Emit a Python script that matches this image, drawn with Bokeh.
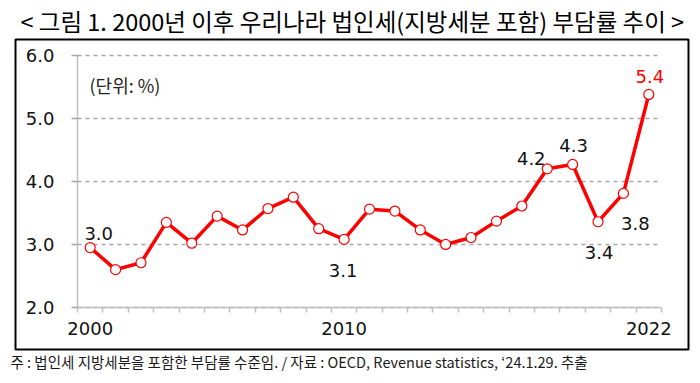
from bokeh.plotting import figure
from bokeh.models import (ColumnDataSource, Range1d, FixedTicker, NumeralTickFormatter,
                          Label, Title, Grid, CustomJSTickFormatter)
from bokeh.core.properties import value
from bokeh.embed import file_html
from bokeh.resources import INLINE

# ---------------- data ----------------
years = list(range(2000, 2023))
rate = [2.95, 2.60, 2.71, 3.35, 3.02, 3.45, 3.23, 3.57, 3.75, 3.25, 3.08,
        3.56, 3.53, 3.23, 3.00, 3.11, 3.37, 3.61, 4.20, 4.27, 3.36, 3.81, 5.38]
label_years = [2000, 2010, 2018, 2019, 2020, 2021, 2022]
label_texts = ["3.0", "3.1", "4.2", "4.3", "3.4", "3.8", "5.4"]
x_tick_labels = [2000, 2010, 2022]
y_ticks = [2.0, 3.0, 4.0, 5.0, 6.0]
title_text = "< 그림 1. 2000년 이후 우리나라 법인세(지방세분 포함) 부담률 추이 >"
unit_text = "(단위: %)"
note_text = "주 : 법인세 지방세분을 포함한 부담률 수준임. / 자료 : OECD, Revenue statistics, \u201824.1.29. 추출"

# ---------------- layout / styles ----------------
W, H = 692, 375
FRAME_L, FRAME_R, FRAME_T, FRAME_B = 15, 688, 38, 350      # black box (frame)
AX_L, AX_R, AX_T, AX_B = 77, 661, 54, 307.7                  # plotting area inside box
NUM_FONT = "DejaVu Sans"
KR_FONT = "Noto Sans CJK KR"
RED = "#FF0000"
GRID = "#A6A6A6"
AXIS = "#BFBFBF"
TXT = "#111111"
lab_dx = {2000: 8.5, 2010: -1, 2018: -16, 2019: 1, 2020: 1, 2021: 12, 2022: 1}
lab_dy = {2000: -14, 2010: 31, 2018: -10, 2019: -19, 2020: 31, 2021: 30, 2022: -18}
lab_col = {2022: RED}

x0, x1 = years[0] - 0.5, years[-1] + 0.5
ppx = (AX_R - AX_L) / (x1 - x0)
y0, y1 = y_ticks[0], y_ticks[-1]
ppy = (AX_B - AX_T) / (y1 - y0)
xr = Range1d(x0 - (AX_L - FRAME_L) / ppx, x1 + (FRAME_R - AX_R) / ppx)
yr = Range1d(y0 - (FRAME_B - AX_B) / ppy, y1 + (AX_T - FRAME_T) / ppy)

p = figure(width=W, height=H, output_backend="svg", toolbar_location=None,
           x_range=xr, y_range=yr, title=title_text,
           min_border_left=FRAME_L, min_border_right=W - FRAME_R,
           min_border_top=FRAME_T, min_border_bottom=H - FRAME_B)
p.outline_line_color = "black"
p.outline_line_width = 2
p.background_fill_color = "white"
p.border_fill_color = "white"

# title
p.title.text_font = KR_FONT
p.title.text_font_size = "23.5px"
p.title.text_font_style = "normal"
p.title.text_color = "#000000"
p.title.align = "left"
p.title.offset = 5
p.title.standoff = 3

# x axis, fixed at y = 2.0
xa = p.xaxis[0]
xa.fixed_location = y0
xa.bounds = (x0, x1)
xa.ticker = FixedTicker(ticks=x_tick_labels,
                        minor_ticks=[y - 0.5 for y in years] + [x1])
xa.major_tick_line_color = None
xa.major_tick_out = 0
xa.major_tick_in = 0
xa.minor_tick_out = 5
xa.minor_tick_in = 0
xa.minor_tick_line_color = AXIS
xa.minor_tick_line_width = 1.5
xa.axis_line_color = AXIS
xa.axis_line_width = 1.5
xa.major_label_text_font = NUM_FONT
xa.major_label_text_font_size = "18px"
xa.major_label_text_color = TXT
xa.major_label_standoff = 10
xa.formatter = CustomJSTickFormatter(code="return tick.toFixed(0)")

# y axis, fixed at left boundary of the years
ya = p.yaxis[0]
ya.fixed_location = x0
ya.bounds = (y0, y1)
ya.ticker = FixedTicker(ticks=y_ticks)
ya.formatter = NumeralTickFormatter(format="0.0")
ya.minor_tick_line_color = None
ya.major_tick_out = 6
ya.major_tick_in = 0
ya.major_tick_line_color = GRID
ya.major_tick_line_width = 1.5
ya.axis_line_color = AXIS
ya.axis_line_width = 1.5
ya.major_label_text_font = NUM_FONT
ya.major_label_text_font_size = "18px"
ya.major_label_text_color = TXT
ya.major_label_standoff = 17

p.xgrid.grid_line_color = None
if "cross_bounds" in Grid.properties():
    g = p.ygrid[0]
    g.bounds = (y0, y1)
    g.cross_bounds = (x0, x1)
    g.grid_line_color = GRID
    g.grid_line_dash = "4 4"
    g.grid_line_width = 1.5
else:
    p.ygrid.grid_line_color = None
    p.segment(x0=[x0] * len(y_ticks), x1=[x1] * len(y_ticks), y0=y_ticks, y1=y_ticks,
              line_color=GRID, line_dash="4 4", line_width=1.5, level="underlay")

src = ColumnDataSource(dict(x=years, y=rate))
p.line("x", "y", source=src, line_color=RED, line_width=3.5)
p.scatter("x", "y", source=src, size=10, marker="circle", fill_color="white",
          line_color=RED, line_width=1.2)

lab_y = [rate[years.index(y)] for y in label_years]
lsrc = ColumnDataSource(dict(
    x=label_years, y=lab_y, text=label_texts,
    dx=[lab_dx[y] for y in label_years], dy=[lab_dy[y] for y in label_years],
    c=[lab_col.get(y, TXT) for y in label_years]))
p.text("x", "y", text="text", source=lsrc, x_offset="dx", y_offset="dy",
       text_color="c", text_font=value(NUM_FONT), text_font_size="18px",
       text_align="center", text_baseline="alphabetic")

p.add_layout(Label(x=89, y=84, x_units="canvas", y_units="canvas", text=unit_text,
                   text_font=KR_FONT, text_font_size="18px", text_color="#222222",
                   text_baseline="alphabetic"))

p.add_layout(Title(text=note_text, align="left", offset=-5, standoff=3,
                   vertical_align="top", text_font=KR_FONT, text_font_size="14.5px",
                   text_font_style="normal", text_color="#1a1a1a"), "below")

open("out.html", "w").write(file_html(p, INLINE))
